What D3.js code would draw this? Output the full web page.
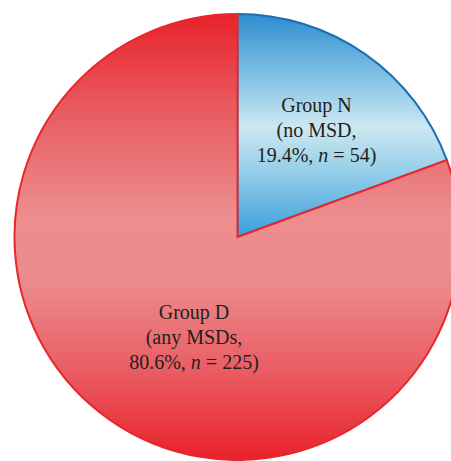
<!DOCTYPE html>
<html>
<head>
<meta charset="utf-8">
<script src="https://cdn.jsdelivr.net/npm/d3@7"></script>
<style>
  html, body { margin: 0; padding: 0; background: #ffffff; }
  svg { display: block; }
</style>
</head>
<body>
<svg id="chart" width="451" height="461"></svg>
<script>
// Study groups and their share of participants
const groups = ["Group N", "Group D"];
const descriptions = ["no MSD", "any MSDs"];
const percents = [19.4, 80.6];
const counts = [54, 225];

const svg = d3.select("#chart");
const cx = 237.5, cy = 237, radius = 223;

const defs = svg.append("defs");

// Gradients are given in the pie group's coordinates (origin at the centre)
// Blue slice: dark at top and bottom, pale in the middle
const gBlue = defs.append("linearGradient")
  .attr("id", "fillN").attr("gradientUnits", "userSpaceOnUse")
  .attr("x1", 0).attr("y1", -radius).attr("x2", 0).attr("y2", 3);
[[0, "#2f8dd0"], [0.25, "#79bde3"], [0.5, "#cde8f0"], [0.72, "#8fcbe8"], [1, "#369cdb"]]
  .forEach(([o, c]) => gBlue.append("stop").attr("offset", o).attr("stop-color", c));

// Red slice: saturated red at the poles, soft pink around the centre
const gRed = defs.append("linearGradient")
  .attr("id", "fillD").attr("gradientUnits", "userSpaceOnUse")
  .attr("x1", 0).attr("y1", -radius).attr("x2", 0).attr("y2", radius);
[[0, "#e8222a"], [0.2, "#e8585d"], [0.45, "#ec8d8e"], [0.6, "#ec8b8d"], [0.8, "#e95d62"], [1, "#e8222a"]]
  .forEach(([o, c]) => gRed.append("stop").attr("offset", o).attr("stop-color", c));

const fills = ["url(#fillN)", "url(#fillD)"];
const strokes = ["#1f6db4", "#e8262c"];

const pie = d3.pie().sort(null).value(d => d)(percents);
const arc = d3.arc().innerRadius(0).outerRadius(radius);

const g = svg.append("g").attr("transform", `translate(${cx},${cy})`);

g.selectAll("path.slice")
  .data(pie)
  .join("path")
  .attr("class", "slice")
  .attr("d", arc)
  .attr("fill", (d, i) => fills[i])
  .attr("stroke", (d, i) => strokes[i])
  .attr("stroke-width", 2)
  .attr("stroke-linejoin", "miter");

// Label anchors (centre of the text block, relative to the pie centre)
const labelOffsets = [[79, -106], [-43.5, 101]];
const lineGap = 25;

pie.forEach((d, i) => {
  const [ox, oy] = labelOffsets[i];
  const t = g.append("text")
    .attr("x", ox).attr("y", oy)
    .attr("text-anchor", "middle")
    .attr("font-family", "'Liberation Serif', 'DejaVu Serif', serif")
    .attr("font-size", 20)
    .attr("fill", "#231f20");
  t.append("tspan").attr("x", ox).attr("dy", -lineGap + 6).text(groups[i]);
  t.append("tspan").attr("x", ox).attr("dy", lineGap).text(`(${descriptions[i]},`);
  const l3 = t.append("tspan").attr("x", ox).attr("dy", lineGap);
  l3.append("tspan").text(`${percents[i].toFixed(1)}%, `);
  l3.append("tspan").attr("font-style", "italic").text("n");
  l3.append("tspan").text(` = ${counts[i]})`);
});
</script>
</body>
</html>
